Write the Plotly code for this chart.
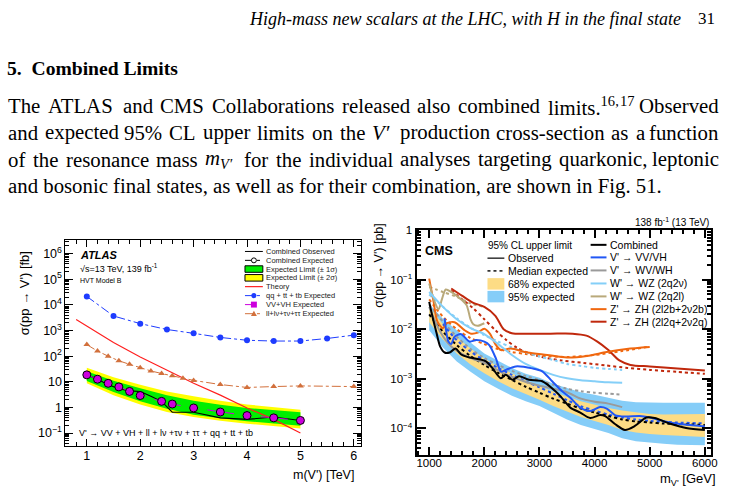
import re
import numpy as np
import plotly.graph_objects as go

W, H = 733, 491
def px(x): return x / W
def py(y): return 1 - y / H

# ---------------- ATLAS (left) data: mass in TeV, sigma in fb ----------------
atl_qq_m = [1.0, 1.5, 2.0, 2.5, 3.0, 3.5, 4.0, 4.5, 5.0, 5.5, 6.0]
atl_qq_sig = [21400, 3700, 1860, 1100, 776, 537, 417, 389, 389, 490, 661]

atl_th_m = [0.8, 1.0, 1.5, 2.0, 2.5, 3.0, 3.5, 4.0, 4.5, 5.0]
atl_th_sig = [2700, 1500, 340, 93, 29, 8.7, 3.0, 0.95, 0.34, 0.10]

atl_ll_m = [1.0, 1.2, 1.4, 1.6, 1.8, 2.0, 2.2, 2.4, 2.6, 2.8, 3.0, 3.5, 4.0, 4.5, 5.0, 6.0]
atl_ll_sig = [282, 158, 100, 66, 48, 35.5, 26.5, 21, 17, 13.8, 11.3, 7.8, 6.0, 6.5, 6.9, 6.5]

atl_exp_m = [1.0, 1.2, 1.4, 1.6, 1.8, 2.0, 2.4, 2.6, 3.0, 3.5, 4.0, 4.5, 5.0]
atl_exp_sig = [18.6, 12.6, 8.7, 6.3, 4.2, 2.9, 1.72, 1.35, 0.95, 0.66, 0.48, 0.39, 0.31]

atl_obs_m = [1.0, 1.2, 1.4, 1.6, 1.8, 2.0, 2.2, 2.4, 2.6, 3.0, 3.5, 4.0, 4.5, 5.0]
atl_obs_sig = [18.6, 12.6, 7.6, 5.4, 4.4, 4.2, 2.7, 1.72, 0.65, 0.65, 0.39, 0.34, 0.42, 0.31]

atl_band_m = [1.0, 1.5, 2.0, 2.5, 3.0, 3.5, 4.0, 4.5, 5.0]
atl_2s_hi = [35, 15, 7.6, 4.2, 2.7, 1.8, 1.3, 1.0, 0.81]
atl_1s_hi = [26, 11, 5.6, 3.0, 1.8, 1.26, 0.95, 0.76, 0.65]
atl_1s_lo = [10.7, 4.0, 1.74, 0.89, 0.52, 0.38, 0.29, 0.23, 0.19]
atl_2s_lo = [8.7, 3.0, 1.29, 0.66, 0.42, 0.30, 0.23, 0.18, 0.15]

# ---------------- CMS (right) data: mass in GeV, log10(sigma / pb) ----------------
cms_band_m = [1000, 1250, 1500, 1750, 2000, 2250, 2500, 2750, 3000, 3250, 3500,
              3750, 4000, 4250, 4500, 4750, 5000, 5250, 5500, 5750, 6000]
cms_exp_log = [-1.70, -2.05, -2.32, -2.54, -2.72, -2.88, -3.02, -3.16, -3.28, -3.40, -3.50,
               -3.60, -3.68, -3.75, -3.82, -3.86, -3.88, -3.90, -3.91, -3.92, -3.93]
cms_68hi_log = [-1.56, -1.90, -2.16, -2.39, -2.59, -2.75, -2.89, -3.03, -3.15, -3.26, -3.36,
                -3.45, -3.52, -3.59, -3.64, -3.68, -3.71, -3.72, -3.72, -3.71, -3.71]
cms_68lo_log = [-1.86, -2.21, -2.49, -2.71, -2.89, -3.05, -3.19, -3.31, -3.42, -3.55, -3.66,
                -3.77, -3.85, -3.93, -4.03, -4.08, -4.11, -4.13, -4.15, -4.16, -4.17]
cms_95hi_log = [-1.49, -1.79, -2.02, -2.27, -2.49, -2.64, -2.78, -2.90, -2.98, -3.10, -3.19,
                -3.27, -3.32, -3.38, -3.44, -3.47, -3.48, -3.48, -3.48, -3.48, -3.48]
cms_95lo_log = [-2.02, -2.37, -2.65, -2.86, -3.05, -3.20, -3.34, -3.45, -3.55, -3.69, -3.82,
                -3.93, -4.01, -4.09, -4.20, -4.26, -4.29, -4.31, -4.33, -4.34, -4.34]

cms_obs_m = [1000, 1060, 1130, 1200, 1280, 1370, 1480, 1580, 1730, 1880, 2030, 2150, 2300,
             2390, 2510, 2630, 2810, 3050, 3290, 3380, 3560, 3740, 3920, 4100, 4190, 4370,
             4550, 4730, 4940, 5090, 5360, 5660, 6000]
cms_obs_log = [-1.45, -1.75, -2.06, -2.35, -2.47, -2.47, -2.39, -2.51, -2.57, -2.60, -2.65,
               -2.79, -2.99, -2.92, -3.02, -2.95, -3.02, -3.05, -3.25, -3.35, -3.58, -3.68,
               -3.79, -3.73, -3.75, -3.91, -4.03, -3.95, -3.78, -3.79, -3.90, -3.99, -4.03]

vv_obs_m = [1280, 1350, 1400, 1460, 1580, 1730, 1850, 2000, 2090, 2210, 2300, 2390, 2570,
            2870, 3050, 3230, 3410, 3560, 3740, 3920, 4100, 4220, 4370, 4550, 4820, 5000,
            5360, 6000]
vv_obs_log = [-1.78, -2.25, -2.30, -2.15, -2.10, -2.25, -2.22, -2.25, -2.32, -2.59, -2.85,
              -2.82, -2.75, -2.79, -2.85, -3.05, -3.25, -3.38, -3.58, -3.65, -3.57, -3.60,
              -3.73, -3.76, -3.75, -3.78, -3.88, -3.96]
vv_exp_m = [1250, 1500, 1750, 2000, 2250, 2500, 2750, 3000, 3250, 3500, 3750, 4000, 4250,
            4500, 4750, 5000, 5500, 6000]
vv_exp_log = [-1.90, -2.22, -2.45, -2.63, -2.78, -2.92, -3.05, -3.17, -3.30, -3.43, -3.55,
              -3.64, -3.72, -3.78, -3.82, -3.85, -3.88, -3.90]

wv_obs_m = [1000, 1200, 1400, 1600, 1800, 2000, 2200, 2400, 2600, 2800, 3000, 3250, 3500,
            3750, 4000, 4250, 4500]
wv_obs_log = [-1.55, -2.05, -2.35, -2.50, -2.60, -2.68, -2.80, -2.92, -3.00, -3.08, -3.14,
              -3.20, -3.27, -3.40, -3.46, -3.50, -3.57]
wv_exp_m = [1000, 1250, 1500, 1750, 2000, 2250, 2500, 2750, 3000, 3250, 3500, 3750, 4000,
            4250, 4500]
wv_exp_log = [-1.50, -1.85, -2.15, -2.40, -2.58, -2.72, -2.84, -2.94, -3.03, -3.12, -3.20,
              -3.25, -3.28, -3.30, -3.32]

qv_m = [1000, 1250, 1500, 1750, 2000, 2250, 2500, 2750, 3000, 3250, 3500, 3750, 4000, 4250, 4500]
qv_obs_log = [-1.25, -1.55, -1.80, -1.98, -2.10, -2.30, -2.52, -2.70, -2.82, -2.92, -2.99,
              -3.03, -3.05, -3.07, -3.08]
qv_exp_log = [-1.30, -1.55, -1.78, -1.97, -2.12, -2.25, -2.37, -2.47, -2.55, -2.62, -2.70,
              -2.74, -2.78, -2.80, -2.82]

ql_obs_m = [1000, 1100, 1170, 1230, 1300, 1400, 1500, 1600, 1680, 1750, 1800, 1880, 2000]
ql_obs_log = [-1.08, -1.45, -1.60, -1.40, -1.20, -1.25, -1.33, -1.42, -1.52, -1.80, -1.90,
              -1.93, -1.88]
ql_exp_m = [1000, 1250, 1500, 1750, 2000]
ql_exp_log = [-1.15, -1.25, -1.35, -1.48, -1.55]

zb_obs_m = [1000, 1080, 1150, 1250, 1320, 1460, 1640, 1760, 1880, 2000, 2100, 2200, 2300,
            2480, 2780, 3140, 3500, 3860, 4220, 4580, 5000]
zb_obs_log = [-0.98, -1.45, -1.85, -1.98, -1.88, -1.86, -2.02, -2.09, -2.07, -1.99, -2.09,
              -2.30, -2.42, -2.39, -2.47, -2.52, -2.57, -2.54, -2.46, -2.40, -2.36]
zb_exp_m = [1000, 1250, 1500, 1750, 2000, 2250, 2500, 2750, 3000, 3500, 4000, 4500, 5000]
zb_exp_log = [-1.40, -1.75, -2.00, -2.18, -2.30, -2.40, -2.46, -2.50, -2.53, -2.56, -2.52,
              -2.44, -2.35]

zq_obs_m = [1400, 1600, 1800, 2000, 2200, 2350, 2500, 2800, 3200, 3600, 3850, 4050, 4250,
            4450, 4650, 5000, 5500, 6000]
zq_obs_log = [-1.18, -1.33, -1.47, -1.55, -1.73, -2.00, -2.08, -2.09, -2.09, -2.09, -2.13,
              -2.25, -2.42, -2.63, -2.72, -2.75, -2.79, -2.83]
zq_exp_m = [1400, 1600, 1800, 2000, 2200, 2400, 2600, 2800, 3000, 3400, 3800, 4200, 4600,
            5000, 5500, 6000]
zq_exp_log = [-1.22, -1.40, -1.58, -1.80, -2.02, -2.22, -2.38, -2.48, -2.55, -2.63, -2.68,
              -2.73, -2.78, -2.82, -2.86, -2.90]

# page text
para_lines = [
    "The ATLAS and CMS Collaborations released also combined limits.<sup>16,\u200a17</sup> Observed",
    "and expected 95% CL upper limits on the <i>V\u2032</i> production cross-section as a function",
    "of the resonance mass <i>m</i><sub><i>V\u2032</i></sub> for the individual analyses targeting quarkonic, leptonic",
    "and bosonic final states, as well as for their combination, are shown in Fig. 51.",
]

def pb(v):
    return list(10 ** np.array(v, dtype=float))

# colours
C_VV = "#2157f5"; C_WV = "#9a9a9a"; C_QV = "#84cff8"; C_QL = "#b9a97a"
C_ZB = "#f0670f"; C_ZQ = "#c0280c"; C_Y68 = "#fddc85"; C_B95 = "#85cdf8"
C_ATL_BLUE = "#1e3cff"; C_ATL_ORANGE = "#d2703c"; C_MAG = "#cc00dd"

fig = go.Figure()
SANS = "Liberation Sans"
SERIF = "Liberation Serif"

# ---------------- ATLAS traces ----------------
def band(xs, hi, lo, color, xa, ya):
    fig.add_trace(go.Scatter(x=list(xs) + list(xs)[::-1], y=list(hi) + list(lo)[::-1],
                             fill="toself", fillcolor=color, line=dict(width=0),
                             mode="lines", hoverinfo="skip", showlegend=False,
                             xaxis=xa, yaxis=ya))

band(atl_band_m, atl_2s_hi, atl_2s_lo, "#ffff00", "x", "y")
band(atl_band_m, atl_1s_hi, atl_1s_lo, "#00ee00", "x", "y")

fig.add_trace(go.Scatter(x=atl_th_m, y=atl_th_sig, mode="lines",
                         line=dict(color="#ff2020", width=1.2), showlegend=False))
fig.add_trace(go.Scatter(x=atl_qq_m, y=atl_qq_sig, mode="lines+markers",
                         line=dict(color=C_ATL_BLUE, width=1, dash="dashdot"),
                         marker=dict(color=C_ATL_BLUE, size=6), showlegend=False))
fig.add_trace(go.Scatter(x=atl_ll_m, y=atl_ll_sig, mode="lines+markers",
                         line=dict(color=C_ATL_ORANGE, width=1, dash="dashdot"),
                         marker=dict(color=C_ATL_ORANGE, size=6, symbol="triangle-up"),
                         showlegend=False))
fig.add_trace(go.Scatter(x=atl_obs_m, y=atl_obs_sig, mode="lines",
                         line=dict(color="black", width=1.1), showlegend=False))
fig.add_trace(go.Scatter(x=atl_exp_m, y=atl_exp_sig, mode="lines+markers",
                         line=dict(color=C_MAG, width=1, dash="dash"),
                         marker=dict(color=C_MAG, size=8, line=dict(color="black", width=1)),
                         showlegend=False))

# ---------------- CMS traces ----------------
band(cms_band_m, pb(cms_95hi_log), pb(cms_95lo_log), C_B95, "x2", "y2")
band(cms_band_m, pb(cms_68hi_log), pb(cms_68lo_log), C_Y68, "x2", "y2")

def cline(xs, ys, color, dash=None, width=2):
    fig.add_trace(go.Scatter(x=xs, y=pb(ys), mode="lines",
                             line=dict(color=color, width=width, dash=dash, shape="spline",
                                       smoothing=0.8),
                             hoverinfo="skip", showlegend=False, xaxis="x2", yaxis="y2"))

cline(zq_exp_m, zq_exp_log, C_ZQ, "dot")
cline(zb_exp_m, zb_exp_log, C_ZB, "dot")
cline(ql_exp_m, ql_exp_log, C_QL, "dot")
cline(qv_m, qv_exp_log, C_QV, "dot")
cline(wv_exp_m, wv_exp_log, C_WV, "dot")
cline(vv_exp_m, vv_exp_log, C_VV, "dot")
cline(cms_band_m, cms_exp_log, "black", "dot")
cline(zq_obs_m, zq_obs_log, C_ZQ)
cline(zb_obs_m, zb_obs_log, C_ZB)
cline(ql_obs_m, ql_obs_log, C_QL)
cline(qv_m, qv_obs_log, C_QV)
cline(wv_obs_m, wv_obs_log, C_WV)
cline(vv_obs_m, vv_obs_log, C_VV)
cline(cms_obs_m, cms_obs_log, "black")

# ---------------- axes ----------------
def sup(e):
    return "10<sup>" + ("\u2212" + str(-e) if e < 0 else str(e)) + "</sup>"

atl_ytv = [10.0 ** e for e in range(-1, 7)]
atl_ytt = [sup(-1), "1", "10"] + [sup(e) for e in range(2, 7)]
atl_minor_y = [k * 10.0 ** e for e in range(-2, 7) for k in range(2, 10)]
atl_minor_x = [round(0.6 + 0.2 * i, 2) for i in range(28)
               if abs((0.6 + 0.2 * i) - round(0.6 + 0.2 * i)) > 1e-6]

cms_ytv = [1e-4, 1e-3, 1e-2, 1e-1, 1]
cms_ytt = [sup(-4), sup(-3), sup(-2), sup(-1), "1"]
cms_minor_y = [k * 10.0 ** e for e in range(-5, 0) for k in range(2, 10)]
cms_minor_x = [m for m in range(800, 6101, 200) if m % 1000 != 0]

common = dict(showgrid=False, zeroline=False, showline=True, linecolor="black",
              mirror="allticks", ticks="inside", tickcolor="black")

fig.update_layout(
    width=W, height=H, margin=dict(l=0, r=0, t=0, b=0),
    paper_bgcolor="white", plot_bgcolor="white", showlegend=False,
    xaxis=dict(domain=[px(66), px(364)], range=[0.6, 6.135], anchor="y",
               tickmode="array", tickvals=[1, 2, 3, 4, 5, 6], ticklen=7, linewidth=1,
               ticklabelstandoff=-2,
               tickfont=dict(family=SANS, size=12.5, color="black"),
               minor=dict(ticks="inside", ticklen=3.5, tickvals=atl_minor_x, tickcolor="black"),
               **common),
    yaxis=dict(domain=[py(445), py(237)], type="log", range=[-1.49, 6.53], anchor="x",
               tickmode="array", tickvals=atl_ytv, ticktext=atl_ytt, ticklen=8, linewidth=1,
               tickfont=dict(family=SANS, size=12.5, color="black"),
               minor=dict(ticks="inside", ticklen=4, tickvals=atl_minor_y, tickcolor="black"),
               **common),
    xaxis2=dict(domain=[px(420), px(717.3)], range=[771, 6119], anchor="y2",
                tickmode="array", tickvals=[1000, 2000, 3000, 4000, 5000, 6000], ticklen=8,
                linewidth=2, tickwidth=1.5, ticklabelstandoff=-4,
                tickfont=dict(family=SANS, size=11.5, color="black"),
                minor=dict(ticks="inside", ticklen=4, tickvals=cms_minor_x, tickcolor="black"),
                **common),
    yaxis2=dict(domain=[py(454.3), py(226.7)], type="log", range=[-4.53, 0], anchor="x2",
                tickmode="array", tickvals=cms_ytv, ticktext=cms_ytt, ticklen=9,
                linewidth=2, tickwidth=1.5,
                tickfont=dict(family=SANS, size=11.5, color="black"),
                minor=dict(ticks="inside", ticklen=4.5, tickvals=cms_minor_y, tickcolor="black"),
                **common),
)

# ---------------- text ----------------
ann = []
def text(x, y, s, size, xanchor="left", family=SANS, color="black", angle=0):
    ann.append(dict(x=px(x), y=py(y), xref="paper", yref="paper", text=s, showarrow=False,
                    xanchor=xanchor, yanchor="middle", textangle=angle, borderpad=0,
                    font=dict(family=family, size=size, color=color)))

# Times-Roman advance widths (per 1000 em) for justified paragraph layout
TW = {' ': 250, '%': 833, ',': 250, '-': 333, '.': 250, "'": 333, '\u2032': 275, '\u200a': 100,
      'A': 722, 'B': 667, 'C': 667, 'D': 722, 'E': 611, 'F': 556, 'G': 722, 'H': 722, 'I': 333,
      'J': 389, 'K': 722, 'L': 611, 'M': 889, 'N': 722, 'O': 722, 'P': 556, 'Q': 722, 'R': 667,
      'S': 556, 'T': 611, 'U': 722, 'V': 722, 'W': 944, 'X': 722, 'Y': 722, 'Z': 611,
      'a': 444, 'b': 500, 'c': 444, 'd': 500, 'e': 444, 'f': 333, 'g': 500, 'h': 500, 'i': 278,
      'j': 278, 'k': 500, 'l': 278, 'm': 778, 'n': 500, 'o': 500, 'p': 500, 'q': 500, 'r': 333,
      's': 389, 't': 278, 'u': 500, 'v': 500, 'w': 722, 'x': 444, 'y': 500, 'z': 444}

def tw(s, size):
    w, scale = 0.0, 1.0
    for part in re.split(r'(<[^>]+>)', s):
        if part.startswith('<'):
            if part in ('<sup>', '<sub>'):
                scale = 0.7
            elif part in ('</sup>', '</sub>'):
                scale = 1.0
            continue
        for ch in part:
            w += TW.get(ch, 500) * scale
    return w * size / 1000.0

PFS = 20.8
X0, X1 = 7, 726
para_y = [101, 128, 155, 182]
for i, (line, yy) in enumerate(zip(para_lines, para_y)):
    if i == len(para_lines) - 1:
        text(X0, yy, line, PFS, "left", SERIF)
        continue
    words = re.split(r' (?![^<]*</su[pb]>)', line)
    widths = [tw(w_, PFS) for w_ in words]
    gap = (X1 - X0 - sum(widths)) / (len(words) - 1)
    x = X0
    for j, (w_, wd) in enumerate(zip(words, widths)):
        if j == len(words) - 1:
            text(X1, yy, w_, PFS, "right", SERIF)
        else:
            text(x, yy, w_, PFS, "left", SERIF)
        x += wd + gap

text(688, 13, "<i>High-mass new scalars at the LHC, with H in the final state</i>", 18, "right", SERIF)
text(722, 13, "31", 17, "right", SERIF)
text(6, 63, "<b>5.  Combined Limits</b>", 19.6, "left", SERIF)

# ATLAS labels
text(25, 291, "\u03c3(pp \u2192 V') [fb]", 13, "center", angle=-90)
text(358, 475, "m(V') [TeV]", 12.5, "right")
text(80, 252, "<b><i>ATLAS</i></b>", 11)
text(80, 265, "\u221as=13 TeV, 139 fb<sup>-1</sup>", 9)
text(80, 278, "HVT Model B", 7)
text(79, 432, "V' \u2192 VV + VH + ll + l\u03bd +\u03c4\u03bd + \u03c4\u03c4 + qq + tt + tb", 9)

atl_leg = ["Combined Observed", "Combined Expected", "Expected Limit (\u00b1 1\u03c3)",
           "Expected Limit (\u00b1 2\u03c3)", "Theory", "qq + tt + tb Expected",
           "VV+VH Expected", "ll+l\u03bd+\u03c4\u03bd+\u03c4\u03c4 Expected"]
atl_rows = [248.5, 257.5, 266.3, 275.2, 284.1, 293.2, 302.3, 311.5]
for s, yy in zip(atl_leg, atl_rows):
    text(267.5, yy, s, 7.5, color="#222222")

# CMS labels
text(382, 263, "\u03c3(pp \u2192 V') [pb]", 12.5, "center", angle=-90)
text(723, 479, "m<sub>V'</sub> [GeV]", 13, "right")
text(428, 248, "<b>CMS</b>", 12.5)
text(716, 219, "138 fb<sup>-1</sup> (13 TeV)", 10, "right")

cms_left = ["95% CL upper limit", "Observed", "Median expected", "68% expected", "95% expected"]
cms_left_rows = [242.5, 255.3, 268.2, 281.3, 294.2]
text(491, cms_left_rows[0], cms_left[0], 10)
for s, yy in zip(cms_left[1:], cms_left_rows[1:]):
    text(511.5, yy, s, 10.5)
cms_right = ["Combined", "V' \u2192 VV/VH", "V' \u2192 WV/WH", "W' \u2192 WZ (2q2\u03bd)",
             "W' \u2192 WZ (2q2l)", "Z' \u2192 ZH (2l2b+2\u03bd2b)", "Z' \u2192 ZH (2l2q+2\u03bd2q)"]
cms_right_rows = [241.8, 254.5, 267.7, 280.9, 294.0, 306.9, 319.6]
for s, yy in zip(cms_right, cms_right_rows):
    text(614.5, yy, s, 10.5)

# ---------------- legend symbols (shapes in paper coordinates) ----------------
shapes = []
def hline(x0, x1, y, color, width=1, dash="solid"):
    shapes.append(dict(type="line", xref="paper", yref="paper", x0=px(x0), x1=px(x1),
                       y0=py(y), y1=py(y), line=dict(color=color, width=width, dash=dash)))
def rect(x0, x1, y0, y1, fill, lc=None, lw=0):
    shapes.append(dict(type="rect", xref="paper", yref="paper", x0=px(x0), x1=px(x1),
                       y0=py(y1), y1=py(y0), fillcolor=fill,
                       line=dict(color=lc or fill, width=lw)))
def circ(cx, cy, r, fill, lc, lw=1):
    shapes.append(dict(type="circle", xref="paper", yref="paper", x0=px(cx - r), x1=px(cx + r),
                       y0=py(cy + r), y1=py(cy - r), fillcolor=fill, line=dict(color=lc, width=lw)))
def tri(cx, cy, r, fill):
    path = "M {},{} L {},{} L {},{} Z".format(px(cx - r), py(cy + r * 0.8), px(cx + r),
                                             py(cy + r * 0.8), px(cx), py(cy - r))
    shapes.append(dict(type="path", xref="paper", yref="paper", path=path, fillcolor=fill,
                       line=dict(color=fill, width=0)))

ax0, ax1 = 247, 265
cx = (ax0 + ax1) / 2
hline(ax0, ax1, atl_rows[0], "black", 1)
hline(ax0, ax1, atl_rows[1], "black", 1, "dashdot")
circ(cx, atl_rows[1], 2.5, "white", "black", 1)
rect(ax0, ax1, atl_rows[2] - 3.3, atl_rows[2] + 3.3, "#00ee00", "black", 1)
rect(ax0, ax1, atl_rows[3] - 3.3, atl_rows[3] + 3.3, "#ffff00", "black", 1)
hline(ax0, ax1, atl_rows[4], "#ff2020", 1.2)
hline(ax0, ax1, atl_rows[5], C_ATL_BLUE, 1, "dashdot")
circ(cx, atl_rows[5], 2.6, C_ATL_BLUE, C_ATL_BLUE, 0)
hline(ax0, ax1, atl_rows[6], C_MAG, 1, "dash")
rect(cx - 3, cx + 3, atl_rows[6] - 3, atl_rows[6] + 3, C_MAG)
hline(ax0, ax1, atl_rows[7], C_ATL_ORANGE, 1, "dashdot")
tri(cx, atl_rows[7], 3, C_ATL_ORANGE)

l0, l1 = 491.5, 508.5
hline(l0, l1, cms_left_rows[1], "#333333", 1.5)
hline(l0, l1, cms_left_rows[2], "#333333", 1.8, "dot")
rect(l0, l1, cms_left_rows[3] - 5.8, cms_left_rows[3] + 5.8, C_Y68)
rect(l0, l1, cms_left_rows[4] - 5.8, cms_left_rows[4] + 5.8, C_B95)

r0, r1 = 595.5, 611.5
for col, yy in zip(["black", C_VV, C_WV, C_QV, C_QL, C_ZB, C_ZQ], cms_right_rows):
    hline(r0, r1, yy, col, 2)

fig.update_layout(annotations=ann, shapes=shapes)
fig.write_html("out.html")
